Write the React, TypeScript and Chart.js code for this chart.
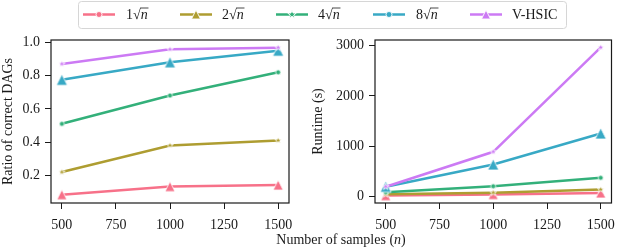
import { useEffect, useRef } from 'react';
import { Chart, registerables } from 'chart.js';
Chart.register(...registerables);

// ---- data ----
const samples = [500, 1000, 1500];
const seriesNames = ['1', '2', '4', '8', 'V-HSIC'];
const ratio1 = [0.084, 0.133, 0.142];
const ratio2 = [0.22, 0.38, 0.41];
const ratio4 = [0.51, 0.68, 0.82];
const ratio8 = [0.775, 0.88, 0.95];
const ratioV = [0.87, 0.958, 0.968];
const runtime1 = [13, 35, 65];
const runtime2 = [40, 68, 133];
const runtime4 = [80, 200, 367];
const runtime8 = [190, 633, 1250];
const runtimeV = [190, 885, 2966];
const xTicks = [500, 750, 1000, 1250, 1500];
const ratioTicks = [0.2, 0.4, 0.6, 0.8, 1.0];
const runtimeTicks = [0, 1000, 2000, 3000];

const COLORS = ['#f77189', '#ae9d31', '#33b07a', '#38a9c5', '#cc7af4'];
const PLOT_MARK = [
  { kind: 'triangle', size: 10 },
  { kind: 'star', size: 7 },
  { kind: 'circle', size: 5 },
  { kind: 'triangle', size: 11 },
  { kind: 'star', size: 7 },
];
const LEG_MARK = [
  { kind: 'circle', size: 6 },
  { kind: 'triangle', size: 9 },
  { kind: 'star', size: 9 },
  { kind: 'circle', size: 6 },
  { kind: 'triangle', size: 9 },
];
const FONT = "'Liberation Serif', serif";
const INK = '#1a1a1a';

Chart.defaults.font.family = FONT;
Chart.defaults.font.size = 14;
Chart.defaults.color = INK;

function pathMarker(ctx: CanvasRenderingContext2D, kind: string, cx: number, cy: number, size: number) {
  const r = size / 2;
  ctx.beginPath();
  if (kind === 'triangle') {
    ctx.moveTo(cx, cy - r);
    ctx.lineTo(cx + r, cy + r);
    ctx.lineTo(cx - r, cy + r);
    ctx.closePath();
  } else if (kind === 'star') {
    for (let k = 0; k < 10; k++) {
      const a = -Math.PI / 2 + (k * Math.PI) / 5;
      const rr = k % 2 === 0 ? r : r * 0.4;
      const px = cx + Math.cos(a) * rr;
      const py = cy + Math.sin(a) * rr;
      if (k === 0) ctx.moveTo(px, py);
      else ctx.lineTo(px, py);
    }
    ctx.closePath();
  } else {
    ctx.arc(cx, cy, r, 0, Math.PI * 2);
  }
}

function markerCanvas(kind: string, color: string, size: number) {
  const dim = Math.ceil(size + 4);
  const c = document.createElement('canvas');
  c.width = dim;
  c.height = dim;
  const ctx = c.getContext('2d')!;
  pathMarker(ctx, kind, dim / 2, dim / 2, size);
  ctx.fillStyle = color;
  ctx.fill();
  ctx.strokeStyle = '#ffffff';
  ctx.lineWidth = 0.8;
  ctx.stroke();
  return c;
}

function fixScale(w: number | null, h: number | null) {
  return (s: any) => {
    if (w !== null) s.width = w;
    if (h !== null) s.height = h;
    s.paddingLeft = 0;
    s.paddingRight = 0;
    s.paddingTop = 0;
    s.paddingBottom = 0;
  };
}

const framePlugin = {
  id: 'frame',
  afterDatasetsDraw(chart: any) {
    const { ctx, chartArea: a } = chart;
    ctx.save();
    ctx.strokeStyle = INK;
    ctx.lineWidth = 1.2;
    ctx.strokeRect(a.left, a.top, a.right - a.left, a.bottom - a.top);
    ctx.restore();
  },
};

function drawSqrt(ctx: CanvasRenderingContext2D, prefix: string, x: number, y: number, size: number) {
  ctx.font = `${size}px ${FONT}`;
  ctx.textBaseline = 'middle';
  ctx.textAlign = 'left';
  ctx.fillStyle = INK;
  ctx.fillText(prefix, x, y);
  const w = ctx.measureText(prefix).width;
  ctx.fillText('√', x + w, y);
  const ws = ctx.measureText('√').width;
  ctx.font = `italic ${size}px ${FONT}`;
  const nx = x + w + ws;
  ctx.fillText('n', nx, y);
  const wn = ctx.measureText('n').width;
  ctx.beginPath();
  ctx.strokeStyle = INK;
  ctx.lineWidth = 0.8;
  const oy = y - size * 0.5;
  ctx.moveTo(nx - 0.6, oy);
  ctx.lineTo(nx + wn + 0.8, oy);
  ctx.stroke();
}

const figurePlugin = {
  id: 'figure',
  afterDraw(chart: any) {
    const ctx: CanvasRenderingContext2D = chart.ctx;
    ctx.save();
    const bx = 78.5, by = 1.5, bw = 488, bh = 27, rr = 3;
    ctx.beginPath();
    ctx.moveTo(bx + rr, by);
    ctx.lineTo(bx + bw - rr, by);
    ctx.arcTo(bx + bw, by, bx + bw, by + rr, rr);
    ctx.lineTo(bx + bw, by + bh - rr);
    ctx.arcTo(bx + bw, by + bh, bx + bw - rr, by + bh, rr);
    ctx.lineTo(bx + rr, by + bh);
    ctx.arcTo(bx, by + bh, bx, by + bh - rr, rr);
    ctx.lineTo(bx, by + rr);
    ctx.arcTo(bx, by, bx + rr, by, rr);
    ctx.closePath();
    ctx.fillStyle = '#ffffff';
    ctx.fill();
    ctx.strokeStyle = '#d6d6d6';
    ctx.lineWidth = 1;
    ctx.stroke();

    const lineX = [83, 180, 276, 373, 470];
    const textX = [126, 222, 318, 416, 512];
    const ly = 14.5;
    for (let i = 0; i < 5; i++) {
      ctx.beginPath();
      ctx.strokeStyle = COLORS[i];
      ctx.lineWidth = 2.5;
      ctx.moveTo(lineX[i], ly);
      ctx.lineTo(lineX[i] + 32, ly);
      ctx.stroke();
      pathMarker(ctx, LEG_MARK[i].kind, lineX[i] + 16, ly, LEG_MARK[i].size);
      ctx.fillStyle = COLORS[i];
      ctx.fill();
      ctx.strokeStyle = '#ffffff';
      ctx.lineWidth = 0.9;
      ctx.stroke();
      if (i < 4) drawSqrt(ctx, seriesNames[i], textX[i], ly + 0.5, 14);
      else {
        ctx.font = `14px ${FONT}`;
        ctx.textBaseline = 'middle';
        ctx.fillStyle = INK;
        ctx.fillText(seriesNames[i], textX[i], ly + 0.5);
      }
    }

    const p1 = 'Number of samples (';
    ctx.font = `14px ${FONT}`;
    const w1 = ctx.measureText(p1).width;
    ctx.font = `italic 14px ${FONT}`;
    const w2 = ctx.measureText('n').width;
    ctx.font = `14px ${FONT}`;
    const w3 = ctx.measureText(')').width;
    const total = w1 + w2 + w3;
    let x = 341 - total / 2;
    const y = 240;
    ctx.fillStyle = INK;
    ctx.textBaseline = 'middle';
    ctx.textAlign = 'left';
    ctx.fillText(p1, x, y);
    x += w1;
    ctx.font = `italic 14px ${FONT}`;
    ctx.fillText('n', x, y);
    x += w2;
    ctx.font = `14px ${FONT}`;
    ctx.fillText(')', x, y);
    ctx.restore();
  },
};

function makeDatasets(series: number[][]) {
  return series.map((vals, i) => ({
    label: seriesNames[i],
    data: samples.map((s, j) => ({ x: s, y: vals[j] })),
    borderColor: COLORS[i],
    backgroundColor: COLORS[i],
    borderWidth: 2.5,
    pointStyle: markerCanvas(PLOT_MARK[i].kind, COLORS[i], PLOT_MARK[i].size) as any,
    pointRadius: 4,
    tension: 0,
    clip: false as any,
    order: 5 - i,
  }));
}

function makeOptions(opts: {
  yMin: number; yMax: number; yTicks: number[]; yTitle: string; yWidth: number;
  padRight: number; fmt: (v: number) => string;
}) {
  const tickFont = { family: FONT, size: 14, style: 'normal' as const, weight: 'normal' as const };
  return {
    responsive: false,
    animation: false as const,
    events: [],
    layout: { padding: { left: 0, right: opts.padRight, top: 40, bottom: 0 } },
    plugins: { legend: { display: false }, tooltip: { enabled: false } },
    scales: {
      x: {
        type: 'linear' as const,
        min: 450,
        max: 1550,
        afterBuildTicks: (s: any) => { s.ticks = xTicks.map((v) => ({ value: v })); },
        afterFit: fixScale(null, 45),
        grid: { drawOnChartArea: false, drawTicks: true, tickLength: 6, color: INK, lineWidth: 1 },
        border: { display: false },
        ticks: { font: tickFont, color: INK, padding: 8, maxRotation: 0, autoSkip: false, callback: (v: any) => String(v) },
      },
      y: {
        type: 'linear' as const,
        min: opts.yMin,
        max: opts.yMax,
        afterBuildTicks: (s: any) => { s.ticks = opts.yTicks.map((v) => ({ value: v })); },
        afterFit: fixScale(opts.yWidth, null),
        grid: { drawOnChartArea: false, drawTicks: true, tickLength: 6, color: INK, lineWidth: 1 },
        border: { display: false },
        ticks: { font: tickFont, color: INK, padding: 5, autoSkip: false, callback: (v: any) => opts.fmt(Number(v)) },
        title: { display: true, text: opts.yTitle, font: { family: FONT, size: 14 }, color: INK, padding: 0 },
      },
    },
  };
}

export default function App() {
  const leftRef = useRef<HTMLCanvasElement>(null);
  const rightRef = useRef<HTMLCanvasElement>(null);

  useEffect(() => {
    const left = new Chart(leftRef.current!, {
      type: 'line',
      data: { datasets: makeDatasets([ratio1, ratio2, ratio4, ratio8, ratioV]) as any },
      options: makeOptions({
        yMin: 0.034, yMax: 1.014, yTicks: ratioTicks, yTitle: 'Ratio of correct DAGs', yWidth: 51,
        padRight: 618 - 289, fmt: (v) => v.toFixed(1),
      }) as any,
      plugins: [framePlugin, figurePlugin],
    });
    const right = new Chart(rightRef.current!, {
      type: 'line',
      data: { datasets: makeDatasets([runtime1, runtime2, runtime4, runtime8, runtimeV]) as any },
      options: makeOptions({
        yMin: -135, yMax: 3113, yTicks: runtimeTicks, yTitle: 'Runtime (s)', yWidth: 65,
        padRight: 308 - (614 - 310), fmt: (v) => String(Math.round(v)),
      }) as any,
      plugins: [framePlugin],
    });
    return () => {
      left.destroy();
      right.destroy();
    };
  }, []);

  return (
    <div style={{ position: 'fixed', left: 0, top: 0, width: 618, height: 248, background: '#fff', overflow: 'hidden' }}>
      <canvas ref={leftRef} width={618} height={248} style={{ position: 'absolute', left: 0, top: 0 }} />
      <canvas ref={rightRef} width={308} height={248} style={{ position: 'absolute', left: 310, top: 0 }} />
    </div>
  );
}
